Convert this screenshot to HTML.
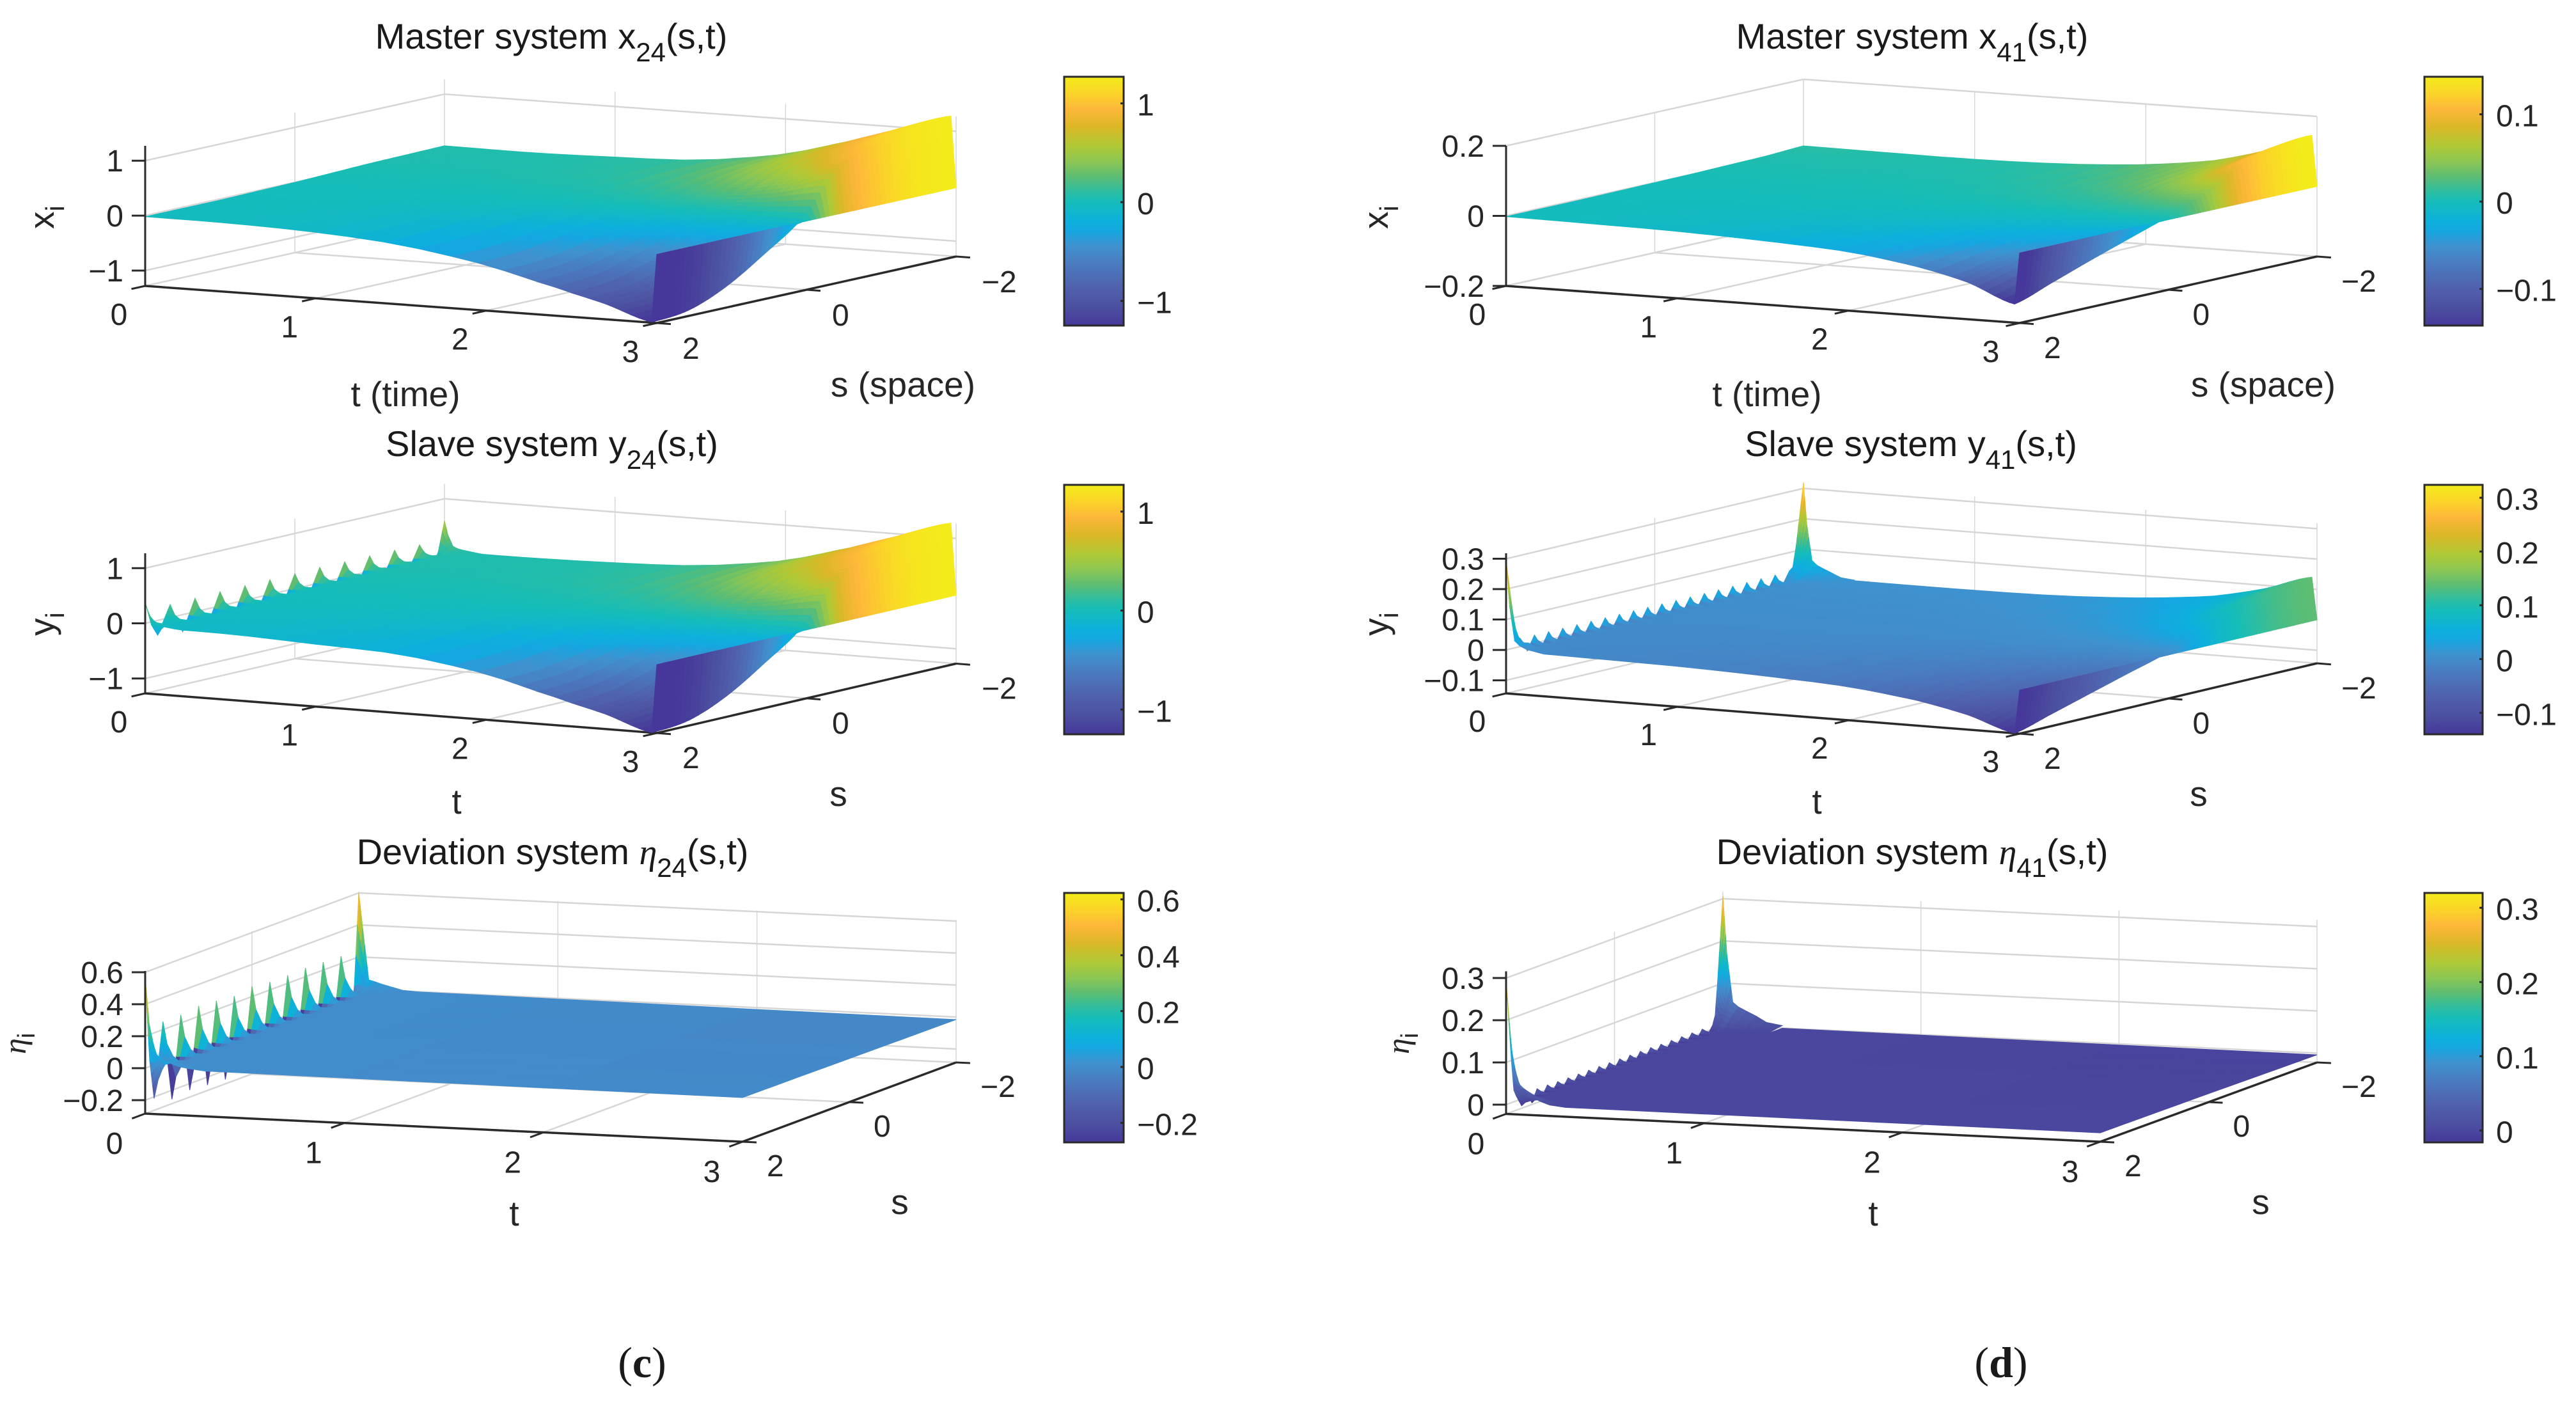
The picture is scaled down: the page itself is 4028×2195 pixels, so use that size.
<!DOCTYPE html>
<html lang="en">
<head>
<meta charset="utf-8">
<title>Master, slave and deviation systems</title>
<style>
html,body{margin:0;padding:0;background:#fff}
svg{display:block}
text{font-family:"Liberation Sans",Arial,sans-serif;fill:#262626}
.title{font-size:56px;fill:#1a1a1a;text-anchor:middle}
.lab{font-size:55px;text-anchor:middle}
.tick{font-size:48px}
.cap{font-family:"Liberation Serif",serif;font-size:68px;fill:#1a1a1a;text-anchor:middle}
.eta{font-family:"Liberation Serif",serif;font-style:italic}
</style>
</head>
<body>
<svg id="figure" xmlns="http://www.w3.org/2000/svg" width="4028" height="2195" viewBox="0 0 4028 2195">
<defs id="defs"></defs>
<rect x="0" y="0" width="4028" height="2195" fill="#fff"/>
<g id="plots"></g>

<text class="title" x="862" y="76">Master system x<tspan dy="20" font-size="42">24</tspan><tspan dy="-20">(s,t)</tspan></text>
<text class="title" x="863" y="713">Slave system y<tspan dy="20" font-size="42">24</tspan><tspan dy="-20">(s,t)</tspan></text>
<text class="title" x="864" y="1351">Deviation system <tspan class="eta">η</tspan><tspan dy="20" font-size="42">24</tspan><tspan dy="-20">(s,t)</tspan></text>
<text class="title" x="2990" y="76">Master system x<tspan dy="20" font-size="42">41</tspan><tspan dy="-20">(s,t)</tspan></text>
<text class="title" x="2988" y="713">Slave system y<tspan dy="20" font-size="42">41</tspan><tspan dy="-20">(s,t)</tspan></text>
<text class="title" x="2990" y="1351">Deviation system <tspan class="eta">η</tspan><tspan dy="20" font-size="42">41</tspan><tspan dy="-20">(s,t)</tspan></text>

<text class="lab" x="634" y="635">t (time)</text>
<text class="lab" x="1412" y="620">s (space)</text>
<text class="lab" x="2763" y="635">t (time)</text>
<text class="lab" x="3539" y="620">s (space)</text>
<text class="lab" x="714" y="1272">t</text>
<text class="lab" x="1311" y="1260">s</text>
<text class="lab" x="2841" y="1272">t</text>
<text class="lab" x="3438" y="1260">s</text>
<text class="lab" x="804" y="1916">t</text>
<text class="lab" x="1407" y="1898">s</text>
<text class="lab" x="2929" y="1916">t</text>
<text class="lab" x="3535" y="1898">s</text>

<text font-size="55" transform="translate(84,358) rotate(-90)">x<tspan dy="16" font-size="41">i</tspan></text>
<text font-size="55" transform="translate(2170,358) rotate(-90)">x<tspan dy="16" font-size="41">i</tspan></text>
<text font-size="55" transform="translate(84,994) rotate(-90)">y<tspan dy="16" font-size="41">i</tspan></text>
<text font-size="55" transform="translate(2170,994) rotate(-90)">y<tspan dy="16" font-size="41">i</tspan></text>
<text font-size="50" transform="translate(40,1648) rotate(-90)"><tspan class="eta">η</tspan><tspan dy="14" font-size="38">i</tspan></text>
<text font-size="50" transform="translate(2203,1648) rotate(-90)"><tspan class="eta">η</tspan><tspan dy="14" font-size="38">i</tspan></text>

<text class="cap" x="1004" y="2153">(<tspan font-weight="bold">c</tspan>)</text>
<text class="cap" x="3129" y="2153">(<tspan font-weight="bold">d</tspan>)</text>
</svg>
<script>
/* ---------- axis tick labels ---------- */
const tTicks = [0, 1, 2, 3];
const sTicks = [-2, 0, 2];
const x24ZTicks = [-1, 0, 1];
const x41ZTicks = [-0.2, 0, 0.2];
const y24ZTicks = [-1, 0, 1];
const y41ZTicks = [-0.1, 0, 0.1, 0.2, 0.3];
const eta24ZTicks = [-0.2, 0, 0.2, 0.4, 0.6];
const eta41ZTicks = [0, 0.1, 0.2, 0.3];
const x24CTicks = [-1, 0, 1];
const x41CTicks = [-0.1, 0, 0.1];
const y24CTicks = [-1, 0, 1];
const y41CTicks = [-0.1, 0, 0.1, 0.2, 0.3];
const eta24CTicks = [-0.2, 0, 0.2, 0.4, 0.6];
const eta41CTicks = [0, 0.1, 0.2, 0.3];

/* ---------- surface samples ---------- */
const baseTimes = [0, 0.5, 1, 1.5, 2, 2.4, 2.7, 2.97];
const baseSpace = [-2, -1.5, -1, -0.5, 0, 0.5, 1, 1.5, 2];
const x24Surface = [
  [0.06, 0.05, 0.04, 0.02, 0, -0.01, -0.02, -0.02, -0.02],
  [0.05, 0.05, 0.04, 0.02, 0, -0.01, -0.02, -0.03, -0.03],
  [0.08, 0.07, 0.06, 0.03, 0, -0.03, -0.06, -0.07, -0.08],
  [0.14, 0.13, 0.10, 0.05, 0, -0.07, -0.14, -0.19, -0.20],
  [0.36, 0.34, 0.27, 0.14, 0, -0.17, -0.32, -0.43, -0.45],
  [0.70, 0.67, 0.54, 0.30, 0, -0.29, -0.55, -0.72, -0.76],
  [1.00, 0.96, 0.80, 0.50, 0, -0.38, -0.72, -0.95, -1.00],
  [1.27, 1.22, 1.06, 0.78, 0, -0.49, -0.92, -1.20, -1.27]
];
const y24Surface = [
  [0.05, 0.05, 0.04, 0.02, 0, -0.02, -0.04, -0.06, -0.07],
  [0.05, 0.05, 0.04, 0.02, 0, -0.02, -0.05, -0.07, -0.08],
  [0.08, 0.07, 0.06, 0.03, 0, -0.04, -0.08, -0.12, -0.14],
  [0.15, 0.14, 0.11, 0.05, 0, -0.08, -0.15, -0.20, -0.21],
  [0.36, 0.34, 0.27, 0.14, 0, -0.17, -0.32, -0.42, -0.44],
  [0.70, 0.67, 0.54, 0.30, 0, -0.29, -0.55, -0.72, -0.76],
  [1.00, 0.96, 0.80, 0.50, 0, -0.38, -0.72, -0.95, -1.00],
  [1.27, 1.22, 1.06, 0.78, 0, -0.49, -0.92, -1.20, -1.27]
];
const x41Surface = [
  [0.010, 0.005, 0.003, 0.001, 0, -0.001, -0.002, -0.002, -0.002],
  [0.008, 0.006, 0.004, 0.002, 0, -0.002, -0.003, -0.004, -0.005],
  [0.007, 0.005, 0.004, 0.002, 0, -0.002, -0.005, -0.007, -0.009],
  [0.012, 0.009, 0.006, 0.003, 0, -0.004, -0.009, -0.014, -0.018],
  [0.027, 0.020, 0.014, 0.007, 0, -0.008, -0.016, -0.024, -0.032],
  [0.053, 0.042, 0.030, 0.014, 0, -0.015, -0.030, -0.045, -0.060],
  [0.092, 0.078, 0.058, 0.026, 0, -0.024, -0.048, -0.072, -0.095],
  [0.145, 0.130, 0.100, 0.040, 0, -0.036, -0.072, -0.110, -0.147]
];
const y41Surface = [
  [0.010, 0.006, 0.003, 0.001, 0, -0.001, -0.002, -0.003, -0.003],
  [0.009, 0.006, 0.004, 0.002, 0, -0.002, -0.003, -0.005, -0.006],
  [0.009, 0.006, 0.004, 0.002, 0, -0.002, -0.005, -0.008, -0.010],
  [0.013, 0.010, 0.006, 0.003, 0, -0.004, -0.010, -0.015, -0.019],
  [0.028, 0.021, 0.014, 0.007, 0, -0.008, -0.017, -0.025, -0.033],
  [0.052, 0.041, 0.029, 0.015, 0, -0.015, -0.030, -0.045, -0.060],
  [0.090, 0.076, 0.056, 0.030, 0, -0.024, -0.048, -0.070, -0.095],
  [0.139, 0.125, 0.095, 0.055, 0, -0.036, -0.072, -0.108, -0.143]
];
const etaTimes = [0, 3];
const etaSpace = [-2, 0, 2];
const eta24Surface = [
  [0, 0, 0],
  [-0.016, -0.012, -0.008]
];
const eta41Surface = [
  [0, 0, 0],
  [-0.004, -0.002, -0.001]
];

/* ---------- initial-time oscillation: one peak per tooth, one dip between teeth ---------- */
const transientTimes = [0, 0.02, 0.05, 0.08, 0.12, 0.17, 0.22, 0.3];
const toothDecay = [1, 0.45, 0.15, 0.03, 0, 0, 0, 0];
const y24Peaks = [0, 0.30, 0.30, 0.30, 0.29, 0.28, 0.27, 0.27, 0.25, 0.24, 0.23, 0.22, 0];
const y24Dips = [-0.20, -0.25, -0.25, -0.25, -0.25, -0.25, -0.25, -0.25, -0.25, -0.25, -0.25, -0.25];
const y24CornerA = [0.45, 0.25, 0.10, 0.05, 0.03, 0.01, 0, 0];
const y24CornerD = [0.55, 0.30, 0.10, 0.06, 0.04, 0.02, 0, 0];
const eta24Peaks = [0, 0.25, 0.25, 0.265, 0.256, 0.244, 0.265, 0.25, 0.25, 0.255, 0.25, 0.245, 0];
const eta24Dips = [-0.21, -0.256, -0.24, -0.25, -0.256, -0.25, -0.25, -0.25, -0.25, -0.25, -0.25, -0.25];
const eta24CornerA = [0.57, 0.28, 0.10, 0.06, 0.04, 0.02, 0.01, 0];
const eta24CornerD = [0.60, 0.38, 0.06, 0.05, 0.035, 0.02, 0.005, 0];
const y41Peaks = [0, 0.03, 0.03, 0.03, 0.03, 0.03, 0.03, 0.03, 0.03, 0.03, 0.03, 0.03, 0.03, 0.03, 0.03, 0.03, 0.03, 0.03, 0.03, 0.03, 0.03, 0];
const y41Dips = [-0.016, -0.016, -0.016, -0.014, -0.014, -0.012, -0.012, -0.012, -0.012, -0.012, -0.012, -0.012, -0.012, -0.012, -0.012, -0.012, -0.012, -0.012, -0.012, -0.012, -0.012];
const y41CornerA = [0.30, 0.15, 0.035, 0.02, 0.01, 0.005, 0, 0];
const y41CornerD = [0.31, 0.17, 0.055, 0.04, 0.03, 0.018, 0.006, 0.002];
const eta41Peaks = [0, 0.011, 0.011, 0.011, 0.011, 0.010, 0.010, 0.010, 0.010, 0.010, 0.010, 0.010, 0.010, 0.010, 0.010, 0.009, 0.009, 0.009, 0.009, 0.009, 0.009, 0];
const eta41Dips = [-0.016, -0.016, -0.018, -0.012, -0.010, -0.010, -0.010, -0.010, -0.010, -0.010, -0.010, -0.010, -0.010, -0.010, -0.010, -0.010, -0.010, -0.010, -0.010, -0.010, -0.010];
const eta41CornerA = [0.30, 0.16, 0.055, 0.04, 0.025, 0.012, 0.004, 0];
const eta41CornerD = [0.306, 0.17, 0.056, 0.045, 0.036, 0.025, 0.012, 0.006];

/* ---------- colormap sampled from the colorbars ---------- */
const colormapFractions = [0, 0.07, 0.15, 0.25, 0.32, 0.38, 0.42, 0.5, 0.54, 0.6, 0.66, 0.72, 0.8, 0.87, 0.93, 1];
const colormapReds = [70, 76, 80, 74, 63, 21, 13, 22, 46, 94, 140, 174, 220, 253, 251, 243];
const colormapGreens = [56, 79, 96, 124, 146, 167, 176, 189, 189, 189, 198, 201, 183, 183, 211, 236];
const colormapBlues = [154, 160, 172, 192, 207, 225, 220, 184, 160, 114, 83, 54, 39, 58, 41, 26];

const mainTimes = [0.3, 0.45, 0.6, 0.8, 1, 1.2, 1.4, 1.6, 1.8, 1.95, 2.1, 2.2, 2.3, 2.4, 2.5, 2.6, 2.65, 2.7, 2.75, 2.8, 2.85, 2.9, 2.94, 2.97];
const flatTimes = [0.3, 0.6, 1, 2, 3];

const SVGNS = 'http://www.w3.org/2000/svg';
const plots = document.getElementById('plots');

const panels = [
  {id:'x24', A:[227,447], B:[1027,505], C:[1495,401], H:219, zLim:[-1.28,1.27], cLim:[-1.25,1.27], bar:[1664,120,93,389],
   zT:x24ZTicks, cT:x24CTicks, times:baseTimes, space:baseSpace, Z:x24Surface, tOff:[-41,44], sOff:[40,39], wall:true, wallZ:-0.03, rows:[0].concat(mainTimes), cells:64},
  {id:'x41', A:[2355,447], B:[3158,505], C:[3623,401], H:219, zLim:[-0.2,0.2], cLim:[-0.142,0.143], bar:[3791,120,91,389],
   zT:x41ZTicks, cT:x41CTicks, times:baseTimes, space:baseSpace, Z:x41Surface, tOff:[-45,44], sOff:[38,38], wall:true, wallZ:0, rows:[0].concat(mainTimes), cells:64},
  {id:'y24', A:[227,1084], B:[1027,1146], C:[1495,1037.5], H:219, zLim:[-1.27,1.27], cLim:[-1.25,1.27], bar:[1664,758,93,390],
   zT:y24ZTicks, cT:y24CTicks, times:baseTimes, space:baseSpace, Z:y24Surface, tOff:[-41,44], sOff:[40,38], wall:true, wallZ:-0.03, rows:mainTimes, cells:64,
   peaks:y24Peaks, dips:y24Dips, cornerA:y24CornerA, cornerD:y24CornerD, narrow:[1,0.25], wide:[1,0.7,0.35,0.1]},
  {id:'y41', A:[2355,1084], B:[3158,1147], C:[3623,1037], H:219, zLim:[-0.143,0.318], cLim:[-0.14,0.324], bar:[3791,758,91,390],
   zT:y41ZTicks, cT:y41CTicks, times:baseTimes, space:baseSpace, Z:y41Surface, tOff:[-45,43], sOff:[38,38], wall:true, wallZ:0, rows:mainTimes, cells:64,
   peaks:y41Peaks, dips:y41Dips, cornerA:y41CornerA, cornerD:y41CornerD, narrow:[1,0.7,0.4,0.1], wide:[1,0.9,0.75,0.55,0.35,0.15]},
  {id:'eta24', A:[227,1741], B:[1161,1785], C:[1495,1661], H:223, zLim:[-0.284,0.608], cLim:[-0.27,0.623], bar:[1664,1396,93,390],
   zT:eta24ZTicks, cT:eta24CTicks, times:etaTimes, space:etaSpace, Z:eta24Surface, tOff:[-48,46], sOff:[38,37], wall:false, wallZ:0, rows:flatTimes, cells:8,
   peaks:eta24Peaks, dips:eta24Dips, cornerA:eta24CornerA, cornerD:eta24CornerD, narrow:[1,0.25], wide:[1,0.7,0.35,0.1]},
  {id:'eta41', A:[2355,1741.5], B:[3284,1785], C:[3623,1661], H:223, zLim:[-0.022,0.316], cLim:[-0.016,0.32], bar:[3791,1396,91,390],
   zT:eta41ZTicks, cT:eta41CTicks, times:etaTimes, space:etaSpace, Z:eta41Surface, tOff:[-47,46], sOff:[38,37], wall:false, wallZ:0, rows:flatTimes, cells:8,
   peaks:eta41Peaks, dips:eta41Dips, cornerA:eta41CornerA, cornerD:eta41CornerD, narrow:[1,0.7,0.4,0.1], wide:[1,0.9,0.75,0.55,0.35,0.15]}
];

/* axis functions */
function project(p, t, s, z) {
  const u = t / 3, v = (2 - s) / 4, w = (z - p.zLim[0]) / (p.zLim[1] - p.zLim[0]);
  return [
    p.A[0] + u * (p.B[0] - p.A[0]) + v * (p.C[0] - p.B[0]),
    p.A[1] + u * (p.B[1] - p.A[1]) + v * (p.C[1] - p.B[1]) - w * p.H
  ];
}
function colorOf(p, z) {
  let f = (z - p.cLim[0]) / (p.cLim[1] - p.cLim[0]);
  f = Math.max(0, Math.min(1, f));
  let i = 0;
  while (i < colormapFractions.length - 2 && f > colormapFractions[i + 1]) i++;
  const a = (f - colormapFractions[i]) / (colormapFractions[i + 1] - colormapFractions[i]);
  const mix = function (arr) { return Math.round(arr[i] + a * (arr[i + 1] - arr[i])); };
  return 'rgb(' + mix(colormapReds) + ',' + mix(colormapGreens) + ',' + mix(colormapBlues) + ')';
}
function bracket(arr, v) {
  let i = 0;
  while (i < arr.length - 2 && v > arr[i + 1]) i++;
  const a = Math.max(0, Math.min(1, (v - arr[i]) / (arr[i + 1] - arr[i])));
  return [i, a];
}
function smooth(v0, v1, v2, v3, a) {
  return 0.5 * (2 * v1 + (v2 - v0) * a + (2 * v0 - 5 * v1 + 4 * v2 - v3) * a * a + (3 * v1 - v0 - 3 * v2 + v3) * a * a * a);
}
function baseValue(p, t, s) {
  const bt = bracket(p.times, t), bs = bracket(p.space, s);
  const nT = p.Z.length - 1, nS = p.Z[0].length - 1;
  const rowAt = function (ri) {
    const r = p.Z[Math.max(0, Math.min(nT, ri))];
    const c = function (ci) { return r[Math.max(0, Math.min(nS, ci))]; };
    return smooth(c(bs[0] - 1), c(bs[0]), c(bs[0] + 1), c(bs[0] + 2), bs[1]);
  };
  return smooth(rowAt(bt[0] - 1), rowAt(bt[0]), rowAt(bt[0] + 1), rowAt(bt[0] + 2), bt[1]);
}
function toothValue(p, row, j) {
  const k = Math.floor(j / 4), ph = j % 4;
  let tooth = 0;
  if (ph === 0) tooth = p.peaks[k];
  else if (ph === 2) tooth = p.dips[k];
  else if (ph === 1) tooth = 0.5 * (p.peaks[k] + p.dips[k]);
  else tooth = 0.5 * (p.dips[k] + p.peaks[k + 1]);
  return tooth * toothDecay[row];
}
function cornerValue(p, row, j) {
  const n = p.peaks.length - 1;
  const width = row < 2 ? p.narrow : p.wide;
  const dA = j, dD = 4 * n - j;
  let z = 0;
  if (dA < width.length) z += p.cornerA[row] * width[dA];
  if (dD < width.length) z += p.cornerD[row] * width[dD];
  return z;
}
function transientValue(p, row, j) {
  return toothValue(p, row, j) + cornerValue(p, row, j);
}
function addFacet(group, p, c1, c2, c3, c4, z) {
  const fill = colorOf(p, z);
  const el = document.createElementNS(SVGNS, 'polygon');
  
  
  el.setAttribute('points', [c1, c2, c3, c4].map(function (q) { return q[0].toFixed(1) + ',' + q[1].toFixed(1); }).join(' '));
  el.setAttribute('fill', fill);
  el.setAttribute('stroke', fill);
  el.setAttribute('stroke-width', '1');
  group.appendChild(el);
}
function drawLine(group, a, b, color, width, name) {
  const el = document.createElementNS(SVGNS, 'line');
  
  
  el.setAttribute('x1', a[0]);
  el.setAttribute('y1', a[1]);
  el.setAttribute('x2', b[0]);
  el.setAttribute('y2', b[1]);
  el.setAttribute('stroke', color);
  el.setAttribute('stroke-width', width);
  group.appendChild(el);
}
function drawText(group, x, y, str, anchor, name) {
  const el = document.createElementNS(SVGNS, 'text');
  
  
  el.setAttribute('class', 'tick');
  el.setAttribute('x', x);
  el.setAttribute('y', y);
  el.setAttribute('text-anchor', anchor);
  el.textContent = str;
  group.appendChild(el);
}
function fmt(v) {
  return (v < 0 ? '\u2212' : '') + String(Math.abs(v));
}

/* colormap gradient */
(function () {
  const grad = document.createElementNS(SVGNS, 'linearGradient');
  grad.setAttribute('id', 'parulaGrad');
  grad.setAttribute('x1', '0');
  grad.setAttribute('y1', '1');
  grad.setAttribute('x2', '0');
  grad.setAttribute('y2', '0');
  colormapFractions.forEach(function (f, i) {
    const stop = document.createElementNS(SVGNS, 'stop');
    stop.setAttribute('offset', f);
    stop.setAttribute('stop-color', 'rgb(' + colormapReds[i] + ',' + colormapGreens[i] + ',' + colormapBlues[i] + ')');
    grad.appendChild(stop);
  });
  document.getElementById('defs').appendChild(grad);
})();

function drawPanel(p) {
  const g = document.createElementNS(SVGNS, 'g');
  
  
  plots.appendChild(g);

  const zA = p.zLim[0], zB = p.zLim[1];
  const grid = '#d6d6d6';

  /* walls and floor grid */
  p.zT.forEach(function (z) {
    drawLine(g, project(p, 0, 2, z), project(p, 0, -2, z), grid, 2.5, 'grid-line-z-left-wall');
    drawLine(g, project(p, 0, -2, z), project(p, 3, -2, z), grid, 2.5, 'grid-line-z-back-wall');
  });
  drawLine(g, project(p, 0, 0, zA), project(p, 0, 0, zB), grid, 1.5, 'grid-line-s-left-wall');
  drawLine(g, project(p, 0, -2, zA), project(p, 0, -2, zB), grid, 1.5, 'grid-line-corner');
  tTicks.slice(1).forEach(function (t) {
    drawLine(g, project(p, t, -2, zA), project(p, t, -2, zB), grid, 1.5, 'grid-line-t-back-wall');
    if (t < 3) drawLine(g, project(p, t, 2, zA), project(p, t, -2, zA), grid, 2.5, 'grid-line-t-floor');
  });
  drawLine(g, project(p, 0, 0, zA), project(p, 3, 0, zA), grid, 2.5, 'grid-line-s-floor');
  drawLine(g, project(p, 0, 2, zA), project(p, 0, -2, zA), grid, 2.5, 'floor-edge-left');
  drawLine(g, project(p, 0, -2, zA), project(p, 3, -2, zA), grid, 2.5, 'floor-edge-back');

  /* axes beneath the surface */
  drawLine(g, project(p, 0, 2, zA), project(p, 3, 2, zA), '#2a2a2a', 3.5, 't-axis');
  drawLine(g, project(p, 3, 2, zA), project(p, 3, -2, zA), '#2a2a2a', 3.5, 's-axis');

  /* surface, painted from the back corner toward the viewer */
  const surf = document.createElementNS(SVGNS, 'g');
  
  
  g.appendChild(surf);

  if (p.peaks) {
    const n = p.peaks.length - 1, J = 4 * n;
    const reach = p.wide.length;
    for (let r = 0; r < transientTimes.length - 1; r++) {
      for (let j = 0; j < J; j++) {
        /* j counts from s=2; drawing runs from s=-2 forward */
        const jj = J - 1 - j;
        const nearCorner = jj < reach || J - 1 - jj < reach;
        const sub = (r < 2 && nearCorner) ? 3 : 1;
        const sA = 2 - 4 * (jj + 1) / J, sB = 2 - 4 * jj / J;
        const t0 = transientTimes[r], t1 = transientTimes[r + 1];
        const ta0 = transientValue(p, r, jj + 1), tb0 = transientValue(p, r, jj);
        const za0 = baseValue(p, t0, sA) + ta0;
        const zb0 = baseValue(p, t0, sB) + tb0;
        const za1 = baseValue(p, t1, sA) + transientValue(p, r + 1, jj + 1);
        const zb1 = baseValue(p, t1, sB) + transientValue(p, r + 1, jj);
        for (let a = 0; a < sub; a++) {
          for (let b = 0; b < sub; b++) {
            const ua = a / sub, ub = (a + 1) / sub, va = b / sub, vb = (b + 1) / sub;
            const at = function (u, v) {
              return [t0 + u * (t1 - t0), sA + v * (sB - sA),
                (1 - u) * ((1 - v) * za0 + v * zb0) + u * ((1 - v) * za1 + v * zb1)];
            };
            const q = [at(ua, va), at(ua, vb), at(ub, vb), at(ub, va)];
            const pts = q.map(function (c) { return project(p, c[0], c[1], c[2]); });
            let zFill = (q[0][2] + q[1][2] + q[2][2] + q[3][2]) / 4;
            /* flat shading on teeth: a facet takes the colour of its most extreme leading corner */
            if (sub === 1 && r < 3) zFill = Math.abs(ta0) > Math.abs(tb0) ? za0 : zb0;
            addFacet(surf, p, pts[0], pts[1], pts[2], pts[3], zFill);
          }
        }
      }
    }
  }

  const cells = p.cells;
  for (let r = 0; r < p.rows.length - 1; r++) {
    const t0 = p.rows[r], t1 = p.rows[r + 1];
    for (let c = 0; c < cells; c++) {
      const s0 = -2 + 4 * c / cells, s1 = -2 + 4 * (c + 1) / cells;
      const z00 = baseValue(p, t0, s0), z01 = baseValue(p, t0, s1), z10 = baseValue(p, t1, s0), z11 = baseValue(p, t1, s1);
      addFacet(surf, p, project(p, t0, s0, z00), project(p, t0, s1, z01), project(p, t1, s1, z11), project(p, t1, s0, z10), (z00 + z01 + z10 + z11) / 4);
    }
  }
  if (p.wall) {
    /* last time step falls back to zero: flat-shaded strip coloured by the preceding row */
    const tEnd = p.rows[p.rows.length - 1];
    for (let c = 0; c < cells; c++) {
      const s0 = -2 + 4 * c / cells, s1 = -2 + 4 * (c + 1) / cells;
      const z0 = baseValue(p, tEnd, s0), z1 = baseValue(p, tEnd, s1);
      addFacet(surf, p, project(p, tEnd, s0, z0), project(p, tEnd, s1, z1), project(p, 3, s1, p.wallZ), project(p, 3, s0, p.wallZ), (z0 + z1) / 2);
    }
  }

  /* z axis, ticks and labels */
  drawLine(g, project(p, 0, 2, zA), project(p, 0, 2, zB), '#2a2a2a', 3, 'z-axis');
  const tv = [p.B[0] - p.A[0], p.B[1] - p.A[1]], sv = [p.C[0] - p.B[0], p.C[1] - p.B[1]];
  const tl = Math.hypot(tv[0], tv[1]), sl = Math.hypot(sv[0], sv[1]);
  p.zT.forEach(function (z) {
    const q = project(p, 0, 2, z);
    drawLine(g, q, [q[0] - 21, q[1]], '#2a2a2a', 3, 'z-tick');
    drawText(g, q[0] - 34, q[1] + 17, fmt(z), 'end', 'z-tick-label');
  });
  tTicks.forEach(function (t) {
    const q = project(p, t, 2, zA);
    drawLine(g, q, [q[0] - sv[0] / sl * 22, q[1] - sv[1] / sl * 22], '#2a2a2a', 3, 't-tick');
    drawText(g, q[0] + p.tOff[0], q[1] + p.tOff[1] + 17, fmt(t), 'middle', 't-tick-label');
  });
  sTicks.forEach(function (s) {
    const q = project(p, 3, s, zA);
    drawLine(g, q, [q[0] + tv[0] / tl * 22, q[1] + tv[1] / tl * 22], '#2a2a2a', 3, 's-tick');
    drawText(g, q[0] + p.sOff[0], q[1] + p.sOff[1] + 17, fmt(s), 'start', 's-tick-label');
  });

  /* colorbar */
  const bar = document.createElementNS(SVGNS, 'rect');
  
  
  bar.setAttribute('x', p.bar[0]);
  bar.setAttribute('y', p.bar[1]);
  bar.setAttribute('width', p.bar[2]);
  bar.setAttribute('height', p.bar[3]);
  bar.setAttribute('fill', 'url(#parulaGrad)');
  bar.setAttribute('stroke', '#2a2a2a');
  bar.setAttribute('stroke-width', '3');
  g.appendChild(bar);
  p.cT.forEach(function (v) {
    const y = p.bar[1] + p.bar[3] * (p.cLim[1] - v) / (p.cLim[1] - p.cLim[0]);
    const right = p.bar[0] + p.bar[2];
    drawLine(g, [right - 5, y], [right, y], '#2a2a2a', 3, 'colorbar-tick');
    drawText(g, right + 21, y + 19, fmt(v), 'start', 'colorbar-tick-label');
  });
}
panels.forEach(drawPanel);
</script>
</body>
</html>
